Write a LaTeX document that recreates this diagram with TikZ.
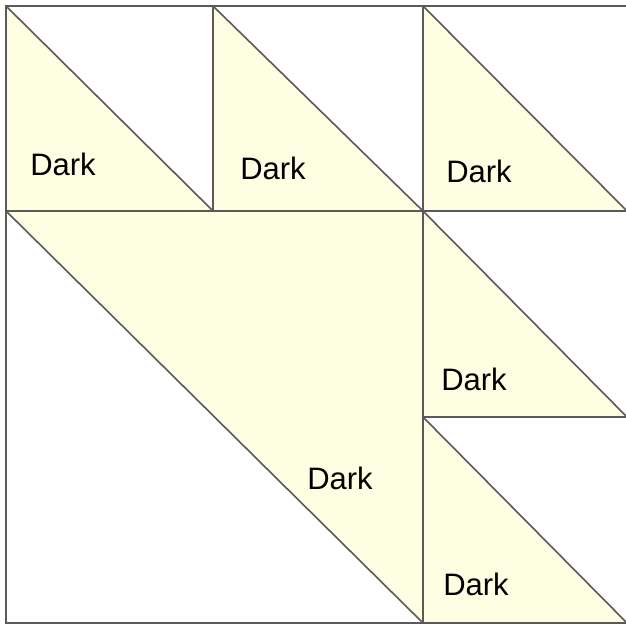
\documentclass[tikz,border=0pt]{standalone}
\usepackage{fontspec}
\setmainfont{Liberation Sans}
\definecolor{patch}{HTML}{FEFEE2}
\definecolor{seam}{HTML}{5A5A5A}
\tikzset{
  darkpatch/.style={fill=patch, draw=none},
  seamline/.style={draw=seam, line width=1.6pt},
  lbl/.style={inner sep=0pt, font=\fontsize{31}{31}\selectfont, text=black}
}
\begin{document}
\begin{tikzpicture}[x=1pt,y=-1pt]
\useasboundingbox (0,0) rectangle (626,626);
\fill[white] (0,0) rectangle (626,626);
\begin{scope}
\clip (0,0) rectangle (626,626);
% grid coordinates
\coordinate (a00) at (6,6);
\coordinate (a10) at (213,6);
\coordinate (a20) at (423,6);
\coordinate (a30) at (627,6);
\coordinate (a01) at (6,211);
\coordinate (a11) at (213,211);
\coordinate (a21) at (423,211);
\coordinate (a31) at (627,211);
\coordinate (a22) at (423,417);
\coordinate (a32) at (627,417);
\coordinate (a03) at (6,623);
\coordinate (a23) at (423,623);
\coordinate (a33) at (627,623);
% dark patches
\path[darkpatch] (a00) -- (a01) -- (a11) -- cycle;
\path[darkpatch] (a10) -- (a11) -- (a21) -- cycle;
\path[darkpatch] (a20) -- (a21) -- (a31) -- cycle;
\path[darkpatch] (a01) -- (a21) -- (a23) -- cycle;
\path[darkpatch] (a21) -- (a22) -- (a32) -- cycle;
\path[darkpatch] (a22) -- (a23) -- (a33) -- cycle;
% seams
\draw[seamline] (a30) -- (a00) -- (a03) -- (a33);
\draw[seamline] (a10) -- (a11);
\draw[seamline] (a20) -- (a23);
\draw[seamline] (a01) -- (a31);
\draw[seamline] (a22) -- (a32);
\draw[seamline] (a00) -- (a11);
\draw[seamline] (a10) -- (a21);
\draw[seamline] (a20) -- (a31);
\draw[seamline] (a01) -- (a23);
\draw[seamline] (a21) -- (a32);
\draw[seamline] (a22) -- (a33);
\end{scope}
% labels
\node[lbl] (l1) at (63,164) {Dark};
\node[lbl] (l2) at (273,168) {Dark};
\node[lbl] (l3) at (479,171) {Dark};
\node[lbl] (l4) at (474,379) {Dark};
\node[lbl] (l5) at (340,478) {Dark};
\node[lbl] (l6) at (476,584) {Dark};
\end{tikzpicture}
\end{document}
